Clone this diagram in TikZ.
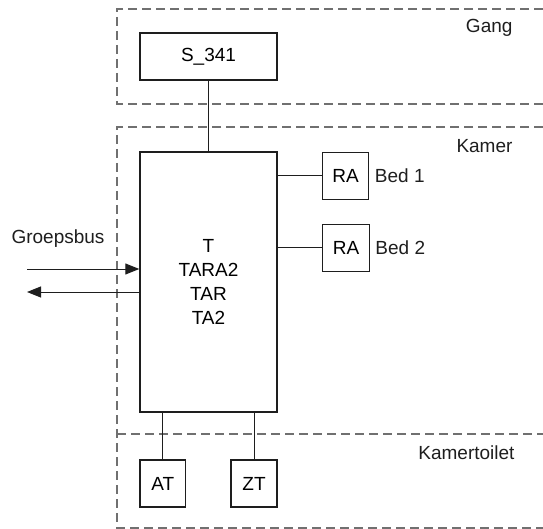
\documentclass[tikz,border=0pt]{standalone}
\usepackage{fontspec}
\setmainfont{Liberation Sans}
\usetikzlibrary{arrows.meta,positioning}
\definecolor{ink}{HTML}{1E1E1E}
\definecolor{zone}{HTML}{707070}
\tikzset{
  unit/.style={draw=ink, line width=1.4pt, fill=white, inner sep=0pt,
    align=center, font=\fontsize{19}{23.7}\selectfont},
  area/.style={draw=zone, line width=1.2pt, dash pattern=on 9pt off 5pt},
  wire/.style={draw=ink, line width=1pt},
  flow/.style={draw=ink, line width=1pt, -{Triangle[length=14pt,width=11pt]}},
  lbl/.style={font=\fontsize{19}{23}\selectfont, text=ink},
}
\begin{document}
\begin{tikzpicture}[x=1pt,y=-1pt]
\useasboundingbox (0,0) rectangle (543,529);

% ----- zones -----
\draw[area] (543,9) -- (117,9) -- (117,104) -- (543,104);
\draw[area] (543,127) -- (117,127) -- (117,528) -- (543,528);
\draw[area] (117,434) -- (543,434);
\node[lbl, anchor=east] (gang) at (516,28) {Gang};
\node[lbl, anchor=east] (kamer) at (516,146) {Kamer};
\node[lbl, anchor=east] (toilet) at (518,453) {Kamertoilet};

% ----- units -----
\node[unit, minimum width=137pt, minimum height=47pt] (s341) at (208.5,56.5) {S\_341};
\node[unit, minimum width=137pt, minimum height=260pt] (main) at (208.5,282) {T\\TARA2\\TAR\\TA2};
\node[unit, minimum width=46.5pt, minimum height=47pt] (ra1) at (345.5,176) {RA};
\node[unit, minimum width=46.5pt, minimum height=47pt] (ra2) at (346,248) {RA};
\node[unit, minimum width=45.5pt, minimum height=47pt] (at) at (162.8,483.5) {AT};
\node[unit, minimum width=46pt, minimum height=47pt] (zt) at (254,483.5) {ZT};

\node[lbl, right=2pt of ra1] (bed1) {Bed 1};
\node[lbl, right=2pt of ra2] (bed2) {Bed 2};

% ----- wiring -----
\draw[wire] (s341) -- (main);
\draw[wire] (main.east |- ra1) -- (ra1);
\draw[wire] (main.east |- ra2) -- (ra2);
\draw[wire] (main.south -| at) -- (at);
\draw[wire] (main.south -| zt) -- (zt);

% ----- group bus -----
\node[lbl, anchor=west] (bus) at (8,239) {Groepsbus};
\coordinate (busin) at (27,269);
\coordinate (busout) at (27,292);
\draw[flow] (busin) -- (main.west |- busin);
\draw[flow] (main.west |- busout) -- (busout);

\end{tikzpicture}
\end{document}
